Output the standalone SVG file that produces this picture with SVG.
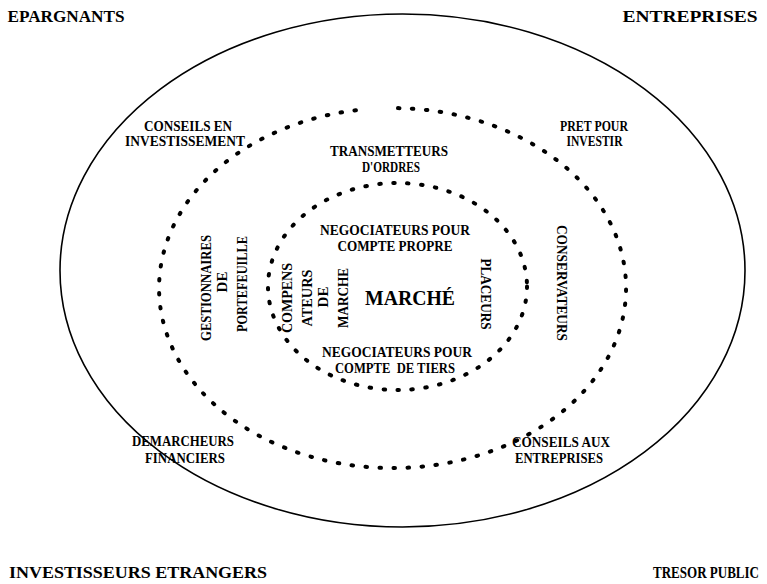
<svg xmlns="http://www.w3.org/2000/svg" width="767" height="584" viewBox="0 0 767 584">
<style>
text{font-family:"Liberation Serif","Times New Roman",serif;font-weight:bold;fill:#000;text-anchor:middle}
.c{font-size:16px}
.l{font-size:15px}
.s{font-size:14px}
.m{font-size:22px}
.ring{fill:none;stroke:#000;stroke-width:4;stroke-linecap:round;stroke-dasharray:1.5 12.5}
</style>
<rect width="767" height="584" fill="#fff"/>
<g id="corners">
<text class="c" x="66" y="22" textLength="117" lengthAdjust="spacingAndGlyphs">EPARGNANTS</text>
<text class="c" x="690" y="22" textLength="135" lengthAdjust="spacingAndGlyphs">ENTREPRISES</text>
<text class="c" x="138" y="578" textLength="258" lengthAdjust="spacingAndGlyphs">INVESTISSEURS ETRANGERS</text>
<text transform="translate(706,578) scale(1,1.18)" style="font-size:13.5px" textLength="106" lengthAdjust="spacingAndGlyphs">TRESOR PUBLIC</text>
</g>
<g id="outer-ring">
<ellipse cx="402.5" cy="270.5" rx="342.5" ry="256.5" fill="none" stroke="#000" stroke-width="1.6"/>
</g>
<g id="middle-ring">
<path class="ring" d="M398 108.1 A233.5 180 0 1 1 362 109.6"/>
</g>
<g id="inner-ring">
<ellipse class="ring" cx="397.5" cy="286.5" rx="129.5" ry="103.5"/>
</g>
<g id="conseils-investissement">
<text class="s" x="188" y="131" textLength="88" lengthAdjust="spacingAndGlyphs">CONSEILS EN</text>
<text class="s" x="185" y="146" textLength="120" lengthAdjust="spacingAndGlyphs">INVESTISSEMENT</text>
</g>
<g id="pret-investir">
<text class="s" x="594" y="131" textLength="68" lengthAdjust="spacingAndGlyphs">PRET POUR</text>
<text class="s" x="594.5" y="146" textLength="56" lengthAdjust="spacingAndGlyphs">INVESTIR</text>
</g>
<g id="transmetteurs">
<text class="s" x="389" y="156" textLength="118" lengthAdjust="spacingAndGlyphs">TRANSMETTEURS</text>
<text class="s" x="391" y="172" textLength="58" lengthAdjust="spacingAndGlyphs">D'ORDRES</text>
</g>
<g id="gestionnaires">
<text class="l" transform="translate(211,288) rotate(-90)" textLength="106" lengthAdjust="spacingAndGlyphs">GESTIONNAIRES</text>
<text class="l" transform="translate(227,282) rotate(-90)">DE</text>
<text class="l" transform="translate(247,284) rotate(-90)" textLength="96" lengthAdjust="spacingAndGlyphs">PORTEFEUILLE</text>
</g>
<g id="conservateurs">
<text class="l" transform="translate(557,283) rotate(90)" textLength="116" lengthAdjust="spacingAndGlyphs">CONSERVATEURS</text>
</g>
<g id="negociateurs-propre">
<text class="s" x="395" y="235" textLength="150" lengthAdjust="spacingAndGlyphs">NEGOCIATEURS POUR</text>
<text class="s" x="395" y="251" textLength="115" lengthAdjust="spacingAndGlyphs">COMPTE PROPRE</text>
</g>
<g id="compensateurs">
<text class="l" transform="translate(292,298) rotate(-90)" textLength="70" lengthAdjust="spacingAndGlyphs">COMPENS</text>
<text class="l" transform="translate(312,298) rotate(-90)" textLength="57" lengthAdjust="spacingAndGlyphs">ATEURS</text>
<text class="l" transform="translate(328,297) rotate(-90)">DE</text>
<text class="l" transform="translate(348,298) rotate(-90)" textLength="60" lengthAdjust="spacingAndGlyphs">MARCHE</text>
</g>
<g id="marche">
<text class="m" x="410" y="305" textLength="90" lengthAdjust="spacingAndGlyphs">MARCHÉ</text>
</g>
<g id="placeurs">
<text class="l" transform="translate(481,294) rotate(90)" textLength="71" lengthAdjust="spacingAndGlyphs">PLACEURS</text>
</g>
<g id="negociateurs-tiers">
<text class="s" x="397" y="357" textLength="150" lengthAdjust="spacingAndGlyphs">NEGOCIATEURS POUR</text>
<text class="s" x="395" y="373" textLength="120" lengthAdjust="spacingAndGlyphs" xml:space="preserve">COMPTE  DE TIERS</text>
</g>
<g id="demarcheurs">
<text class="s" x="183" y="446" textLength="102" lengthAdjust="spacingAndGlyphs">DEMARCHEURS</text>
<text class="s" x="185" y="463" textLength="80" lengthAdjust="spacingAndGlyphs">FINANCIERS</text>
</g>
<g id="conseils-entreprises">
<text class="s" x="561" y="447" textLength="98" lengthAdjust="spacingAndGlyphs">CONSEILS AUX</text>
<text class="s" x="559" y="463" textLength="88" lengthAdjust="spacingAndGlyphs">ENTREPRISES</text>
</g>
</svg>
